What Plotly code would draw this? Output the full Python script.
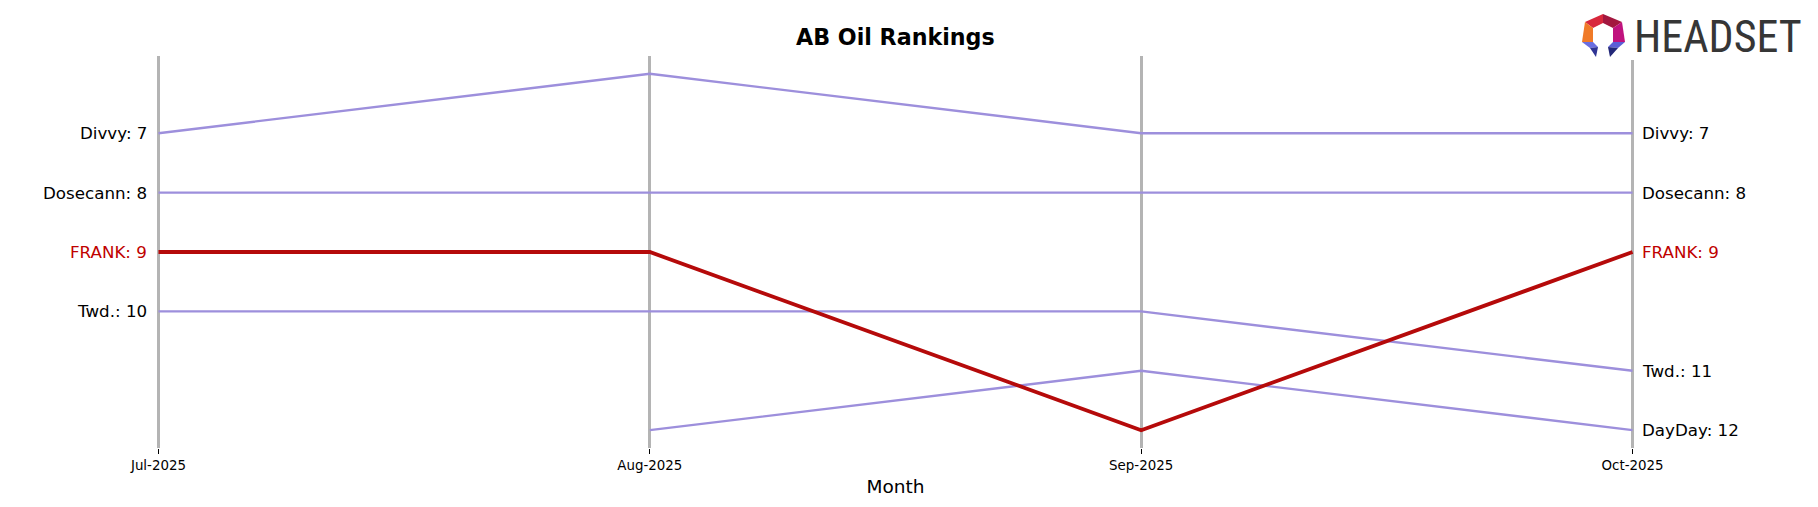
import plotly.graph_objects as go

# ---------------- data ----------------
months = ["Jul-2025", "Aug-2025", "Sep-2025", "Oct-2025"]
brands = ["Divvy", "Dosecann", "Twd.", "DayDay", "FRANK"]
divvy_rank = [7, 6, 7, 7]
dosecann_rank = [8, 8, 8, 8]
twd_rank = [10, 10, 10, 11]
dayday_rank = [None, 12, 11, 12]
frank_rank = [9, 9, 12, 9]
highlight = "FRANK"

series = {
    "Divvy": divvy_rank,
    "Dosecann": dosecann_rank,
    "Twd.": twd_rank,
    "DayDay": dayday_rank,
    "FRANK": frank_rank,
}

# ---------------- styling ----------------
W, H = 1818, 507
ML, MR, MT, MB = 157, 184, 56, 59
PURPLE = "#9d8fdc"
RED = "#b50a0a"
RED_TEXT = "#c00000"
GRID = "#b4b4b4"
FONT = "DejaVu Sans, Liberation Sans, sans-serif"
EPS = 0.003

pw = W - ML - MR
ph = H - MT - MB


def px_x(px):
    return (px - ML) / pw


def px_y(py):
    return (H - MB - py) / ph


xs = list(range(len(months)))
fig = go.Figure()

for name in brands:
    vals = series[name]
    is_hi = name == highlight
    fig.add_trace(go.Scatter(
        x=xs, y=vals, mode="lines", name=name,
        line=dict(color=RED if is_hi else PURPLE, width=3.8 if is_hi else 2.4),
        connectgaps=False, hoverinfo="skip", showlegend=False,
    ))

annotations = []
for name in brands:
    vals = series[name]
    is_hi = name == highlight
    col = RED_TEXT if is_hi else "#000000"
    if vals[0] is not None:
        annotations.append(dict(
            x=0, y=vals[0], xref="x", yref="y", text=f"{name}: {vals[0]}",
            showarrow=False, xanchor="right", yanchor="middle", xshift=-9,
            font=dict(family=FONT, size=16.7, color=col)))
    if vals[-1] is not None:
        annotations.append(dict(
            x=len(months) - 1, y=vals[-1], xref="x", yref="y",
            text=f"{name}: {vals[-1]}",
            showarrow=False, xanchor="left", yanchor="middle", xshift=7,
            font=dict(family=FONT, size=16.7, color=col)))

# title
annotations.append(dict(
    x=0.5, y=px_y(37), xref="paper", yref="paper", text="<b>AB Oil Rankings</b>",
    showarrow=False, xanchor="center", yanchor="middle",
    font=dict(family=FONT, size=22.2, color="#000000")))

# logo text
annotations.append(dict(
    x=px_x(1632), y=px_y(37), xref="paper", yref="paper", text="HEADSET",
    showarrow=False, xanchor="left", yanchor="middle",
    font=dict(family="Liberation Sans Narrow, Roboto Condensed, Arial Narrow, Liberation Sans",
              size=44, color="#363636")))

shapes = []
# white background of the logo (covers top of the last grid line)
shapes.append(dict(type="rect", xref="paper", yref="paper",
                   x0=px_x(1570), x1=px_x(1812), y0=px_y(60), y1=px_y(4),
                   fillcolor="white", line=dict(width=0), layer="above"))

# logo icon pieces (pixel coordinates -> paper)
icon = [
    ("#d8283c", [(1585, 22), (1603, 14), (1603, 23), (1593, 28)]),
    ("#a3173f", [(1603, 14), (1622, 22), (1613, 28), (1603, 23)]),
    ("#f07a28", [(1585, 22), (1593, 28), (1593, 42), (1582, 42)]),
    ("#c0127e", [(1622, 22), (1625, 42), (1613, 42), (1613, 28)]),
    ("#6a6ee0", [(1582, 42), (1593, 42), (1598, 47), (1590, 48)]),
    ("#2f3494", [(1590, 48), (1598, 47), (1596, 57)]),
    ("#5a5ed6", [(1613, 42), (1625, 42), (1618, 48), (1608, 47)]),
    ("#232878", [(1608, 47), (1618, 48), (1610, 57)]),
]
for col, pts in icon:
    path = "M " + " L ".join(f"{px_x(a):.5f},{px_y(b):.5f}" for a, b in pts) + " Z"
    shapes.append(dict(type="path", path=path, xref="paper", yref="paper",
                       fillcolor=col, line=dict(width=0), layer="above"))

fig.update_layout(
    width=W, height=H,
    margin=dict(l=ML, r=MR, t=MT, b=MB, pad=0),
    paper_bgcolor="white", plot_bgcolor="white",
    font=dict(family=FONT, color="#000000"),
    annotations=annotations,
    shapes=shapes,
    showlegend=False,
    xaxis=dict(
        range=[-EPS, len(months) - 1 + EPS], tickmode="array", tickvals=xs, ticktext=months,
        showgrid=True, gridcolor=GRID, gridwidth=2.5, zeroline=False,
        showline=False, ticks="outside", ticklen=5, tickwidth=1, tickcolor="#000000",
        tickfont=dict(family=FONT, size=13.4, color="#000000"),
        title=dict(text="Month", font=dict(family=FONT, size=18.5, color="#000000"), standoff=7),
        fixedrange=True,
    ),
    yaxis=dict(
        range=[12.3, 5.7], showgrid=False, zeroline=False, showline=False,
        showticklabels=False, ticks="", fixedrange=True,
    ),
)

fig.write_html("out.html", config={"displayModeBar": False},
               post_script="document.body.style.margin='0px';")
